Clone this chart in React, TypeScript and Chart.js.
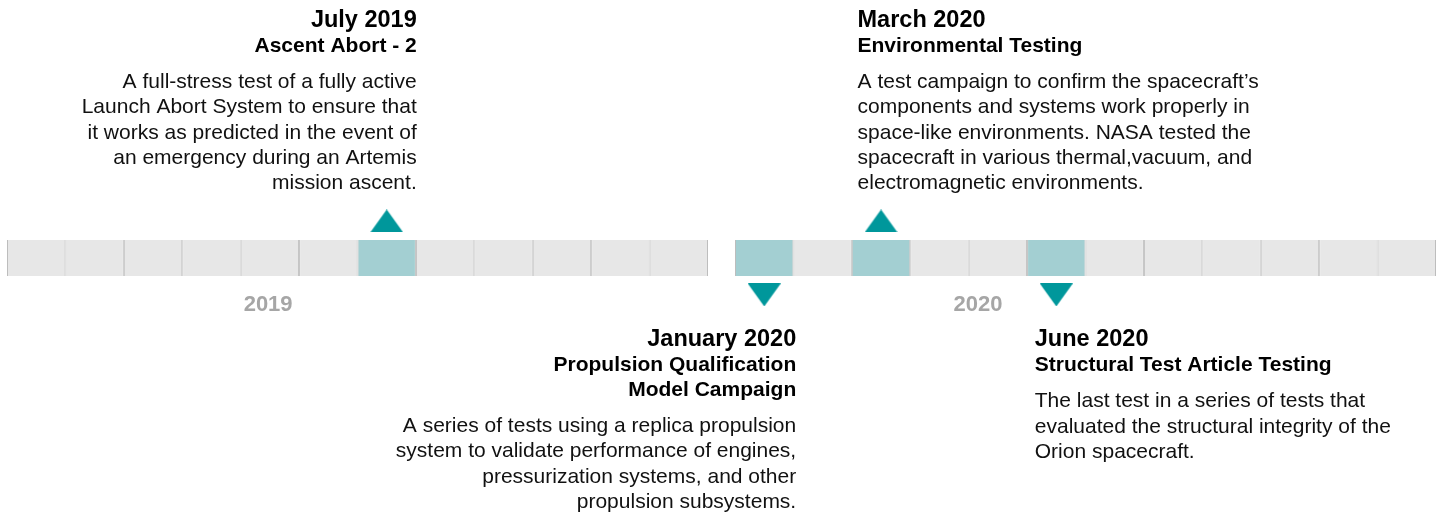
import React, { useEffect, useRef } from 'react';
import { Chart, registerables } from 'chart.js';

Chart.register(...registerables);

// ---------- data ----------
const years = [2019, 2020];
const monthNames = [
  'January', 'February', 'March', 'April', 'May', 'June',
  'July', 'August', 'September', 'October', 'November', 'December',
];

const eventYears = [2019, 2020, 2020, 2020];
const eventMonths = [7, 1, 3, 6];
const eventSides = ['above', 'below', 'above', 'below'];
const eventTitles = [
  ['Ascent Abort - 2'],
  ['Propulsion Qualification', 'Model Campaign'],
  ['Environmental Testing'],
  ['Structural Test Article Testing'],
];
const eventDescriptions = [
  [
    'A full-stress test of a fully active',
    'Launch Abort System to ensure that',
    'it works as predicted in the event of',
    'an emergency during an Artemis',
    'mission ascent.',
  ],
  [
    'A series of tests using a replica propulsion',
    'system to validate performance of engines,',
    'pressurization systems, and other',
    'propulsion subsystems.',
  ],
  [
    'A test campaign to confirm the spacecraft\u2019s',
    'components and systems work properly in',
    'space-like environments. NASA tested the',
    'spacecraft in various thermal,vacuum, and',
    'electromagnetic environments.',
  ],
  [
    'The last test in a series of tests that',
    'evaluated the structural integrity of the',
    'Orion spacecraft.',
  ],
];

// ---------- layout / style ----------
const YEAR_GAP = 0.462; // gap between the two year strips, in month units
const FONT = '"Liberation Sans", Arial, Helvetica, sans-serif';
const GREY = '#e7e7e7';
const DIVIDER = '#bdbdbd';
const HIGHLIGHT = '#a3cfd2';
const TEAL = '#00979b';
const YEAR_COLOR = '#a6a6a6';

function monthStart(year: number, month: number) {
  const yi = years.indexOf(year);
  return yi * (12 + YEAR_GAP) + (month - 1);
}

function makeTriangle(up: boolean) {
  const c = document.createElement('canvas');
  const w = 33;
  const h = 23;
  c.width = w;
  c.height = h;
  const g = c.getContext('2d')!;
  g.fillStyle = TEAL;
  g.beginPath();
  if (up) {
    g.moveTo(0, h);
    g.lineTo(w / 2, 0);
    g.lineTo(w, h);
  } else {
    g.moveTo(0, 0);
    g.lineTo(w / 2, h);
    g.lineTo(w, 0);
  }
  g.closePath();
  g.fill();
  return c;
}

const textPlugin = {
  id: 'timelineText',
  afterDatasetsDraw(chart: any, _args: any, opts: any) {
    const { ctx } = chart;
    const xs = chart.scales.x;
    const ys = chart.scales.y;
    const barY = ys.getPixelForValue(0);
    ctx.save();
    ctx.textBaseline = 'alphabetic';

    // year labels
    ctx.font = `bold 22px ${FONT}`;
    ctx.fillStyle = YEAR_COLOR;
    ctx.textAlign = 'center';
    years.forEach((yr, i) => {
      const px = xs.getPixelForValue(i * (12 + YEAR_GAP) + opts.yearLabelPos[i]);
      ctx.fillText(String(yr), px, barY + 53);
    });

    // event texts
    eventYears.forEach((yr, i) => {
      const cx = xs.getPixelForValue(monthStart(yr, eventMonths[i]) + 0.5);
      const align = opts.align[i];
      const tx = (align === 'right' ? cx + 30 : cx - 24.5) + opts.nudge[i];
      const subs = eventTitles[i];
      const body = eventDescriptions[i];
      let top: number;
      if (eventSides[i] === 'above') {
        const lastBody = barY - 68.5;
        top = lastBody - (body.length - 1) * 25.4 - 36 - (subs.length - 1) * 24.5 - 25;
      } else {
        top = barY + 88.5;
      }
      ctx.textAlign = align;
      ctx.fillStyle = '#000';
      ctx.font = `bold 23.5px ${FONT}`;
      ctx.fillText(`${monthNames[eventMonths[i] - 1]} ${yr}`, tx, top);
      let yy = top + 25;
      ctx.font = `bold 21px ${FONT}`;
      subs.forEach((s, k) => {
        ctx.fillText(s, tx, yy);
        if (k < subs.length - 1) yy += 24.5;
      });
      yy += 36;
      ctx.font = `21px ${FONT}`;
      ctx.fillStyle = '#111';
      body.forEach((b) => {
        ctx.fillText(b, tx, yy);
        yy += 25.4;
      });
    });
    ctx.restore();
  },
};

export default function App() {
  const canvasRef = useRef<HTMLCanvasElement | null>(null);

  useEffect(() => {
    if (!canvasRef.current) return;

    const cells: any[] = [];
    const cellColors: string[] = [];
    years.forEach((yr) => {
      monthNames.forEach((_, mi) => {
        const s = monthStart(yr, mi + 1);
        cells.push({ x: [s, s + 1], y: 0 });
        const hit = eventYears.some((ey, k) => ey === yr && eventMonths[k] === mi + 1);
        cellColors.push(hit ? HIGHLIGHT : GREY);
      });
    });

    const upPts: any[] = [];
    const downPts: any[] = [];
    eventYears.forEach((yr, k) => {
      const p = { x: monthStart(yr, eventMonths[k]) + 0.5, y: eventSides[k] === 'above' ? 1 : -1 };
      (eventSides[k] === 'above' ? upPts : downPts).push(p);
    });

    const chart = new Chart(canvasRef.current, {
      type: 'bar',
      data: {
        datasets: [
          {
            type: 'bar',
            label: 'Months',
            indexAxis: 'y',
            data: cells,
            backgroundColor: cellColors,
            borderColor: DIVIDER,
            borderWidth: { left: 1, right: 1, top: 0, bottom: 0 },
            borderSkipped: false,
            barThickness: 36,
            grouped: false,
            inflateAmount: 0,
          } as any,
          {
            type: 'scatter',
            label: 'Milestones above',
            data: upPts,
            pointStyle: makeTriangle(true),
            pointRadius: 10,
          } as any,
          {
            type: 'scatter',
            label: 'Milestones below',
            data: downPts,
            pointStyle: makeTriangle(false),
            pointRadius: 10,
          } as any,
        ],
      },
      options: {
        animation: false,
        responsive: true,
        maintainAspectRatio: false,
        events: [],
        layout: { autoPadding: false, padding: { left: 7, right: 7, top: 0, bottom: 0 } },
        scales: {
          x: { type: 'linear', min: 0, max: 24 + YEAR_GAP, offset: false, display: false },
          y: { type: 'linear', min: -6.919, max: 6.973, offset: false, display: false },
        },
        plugins: {
          legend: { display: false },
          tooltip: { enabled: false },
          timelineText: {
            yearLabelPos: [4.47, 4.16],
            align: ['right', 'right', 'left', 'left'],
            nudge: [0, 2, 1, 3],
          },
        } as any,
      },
      plugins: [textPlugin],
    } as any);

    return () => chart.destroy();
  }, []);

  return (
    <div style={{ position: 'fixed', left: 0, top: 0, width: '100vw', height: '100vh', background: '#fff' }}>
      <canvas ref={canvasRef} />
    </div>
  );
}
